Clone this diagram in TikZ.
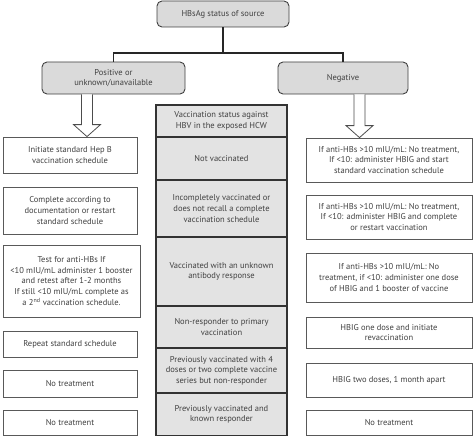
\documentclass[tikz,border=0pt]{standalone}
\usepackage{fontspec}
\setmainfont{PT Sans}
\usetikzlibrary{calc}
\definecolor{txt}{HTML}{404040}
\definecolor{boxgray}{HTML}{DADADA}
\definecolor{midgray}{HTML}{E3E3E3}
\newcommand{\hollowarrow}[2]{\draw[hollow] let \p1=(#1), \p2=(#2) in
  (\x1-5.5pt,\y1) -- (\x1-5.5pt,\y2+12pt) -- (\x1-13.5pt,\y2+12pt) -- (\x1,\y2)
  -- (\x1+13.5pt,\y2+12pt) -- (\x1+5.5pt,\y2+12pt) -- (\x1+5.5pt,\y1);}
\begin{document}
\begin{tikzpicture}[x=1pt,y=-1pt, font=\fontsize{8.5}{10.6}\selectfont, text=txt,
 rbox/.style={draw=black!75, fill=boxgray, rounded corners=5pt, line width=0.9pt, align=center, inner sep=0pt},
 wbox/.style={draw=black!65, fill=white, line width=0.8pt, align=center, inner sep=0pt},
 mrow/.style={draw=black!80, fill=midgray, line width=1.1pt, align=center, inner sep=0pt, minimum width=131pt},
 link/.style={draw=black!85, line width=1.2pt},
 hollow/.style={draw=black!70, fill=white, line width=0.8pt}]
\useasboundingbox (0,0) rectangle (474,436);

% top level
\node[rbox, minimum width=132pt, minimum height=26pt] (top) at (223,14) {HBsAg status of source};
\node[rbox, minimum width=143pt, minimum height=32pt] (pos) at (113.5,78) {Positive or\\unknown/unavailable};
\node[rbox, minimum width=130pt, minimum height=32pt] (neg) at (343,78) {Negative};
\coordinate (j) at (223,53);
\draw[link] (top) -- (j);
\draw[link] (j) -| (pos);
\draw[link] (j) -| (neg);

% middle column
\node[mrow, minimum height=32pt] (hdr) at (221.5,121) {Vaccination status against\\HBV in the exposed HCW};
\node[mrow, minimum height=43pt] (m1) at (221.5,158.5) {Not vaccinated};
\node[mrow, minimum height=57pt] (m2) at (221.5,208.5) {Incompletely vaccinated or\\does not recall a complete\\vaccination schedule};
\node[mrow, minimum height=69pt] (m3) at (221.5,271.5) {Vaccinated with an unknown\\antibody response};
\node[mrow, minimum height=42pt] (m4) at (221.5,327) {Non-responder to primary\\vaccination};
\node[mrow, minimum height=45pt] (m5) at (221.5,370.5) {Previously vaccinated with 4\\doses or two complete vaccine\\series but non-responder};
\node[mrow, minimum height=43pt] (m6) at (221.5,414.5) {Previously vaccinated and\\known responder};

% left column
\node[wbox, minimum width=134pt, minimum height=36pt] (l1) at (70,155) {Initiate standard Hep B\\vaccination schedule};
\node[wbox, minimum width=134pt, minimum height=47pt] (l2) at (70,210.5) {Complete according to\\documentation or restart\\standard schedule};
\node[wbox, minimum width=137pt, minimum height=72pt] (l3) at (71.5,281) {Test for anti-HBs If\\<10 mIU/mL administer 1 booster\\and retest after 1-2 months\\If still <10 mIU/mL complete as\\a 2\textsuperscript{nd} vaccination schedule.};
\node[wbox, minimum width=134pt, minimum height=26pt] (l4) at (70,344) {Repeat standard schedule};
\node[wbox, minimum width=134pt, minimum height=27pt] (l5) at (70,383.5) {No treatment};
\node[wbox, minimum width=134pt, minimum height=25pt] (l6) at (70,422.5) {No treatment};

% right column
\node[wbox, minimum width=166pt, minimum height=44pt] (r1) at (389,160) {If anti-HBs >10 mIU/mL: No treatment,\\If <10: administer HBIG and start\\standard vaccination schedule};
\node[wbox, minimum width=166pt, minimum height=44pt] (r2) at (389,217) {If anti-HBs >10 mIU/mL: No treatment,\\If <10: administer HBIG and complete\\or restart vaccination};
\node[wbox, minimum width=166pt, minimum height=49pt] (r3) at (389,277.5) {If anti-HBs >10 mIU/mL: No\\treatment, if <10: administer one dose\\of HBIG and 1 booster of vaccine};
\node[wbox, minimum width=166pt, minimum height=31pt] (r4) at (389,332.5) {HBIG one dose and initiate\\revaccination};
\node[wbox, minimum width=166pt, minimum height=34pt] (r5) at (389,380) {HBIG two doses, 1 month apart};
\node[wbox, minimum width=166pt, minimum height=25pt] (r6) at (389,422.5) {No treatment};

% hollow arrows
\coordinate (la) at (87,0);
\coordinate (ra) at (359.5,0);
\hollowarrow{pos.south -| la}{l1.north -| la}
\hollowarrow{neg.south -| ra}{r1.north -| ra}
\end{tikzpicture}
\end{document}
